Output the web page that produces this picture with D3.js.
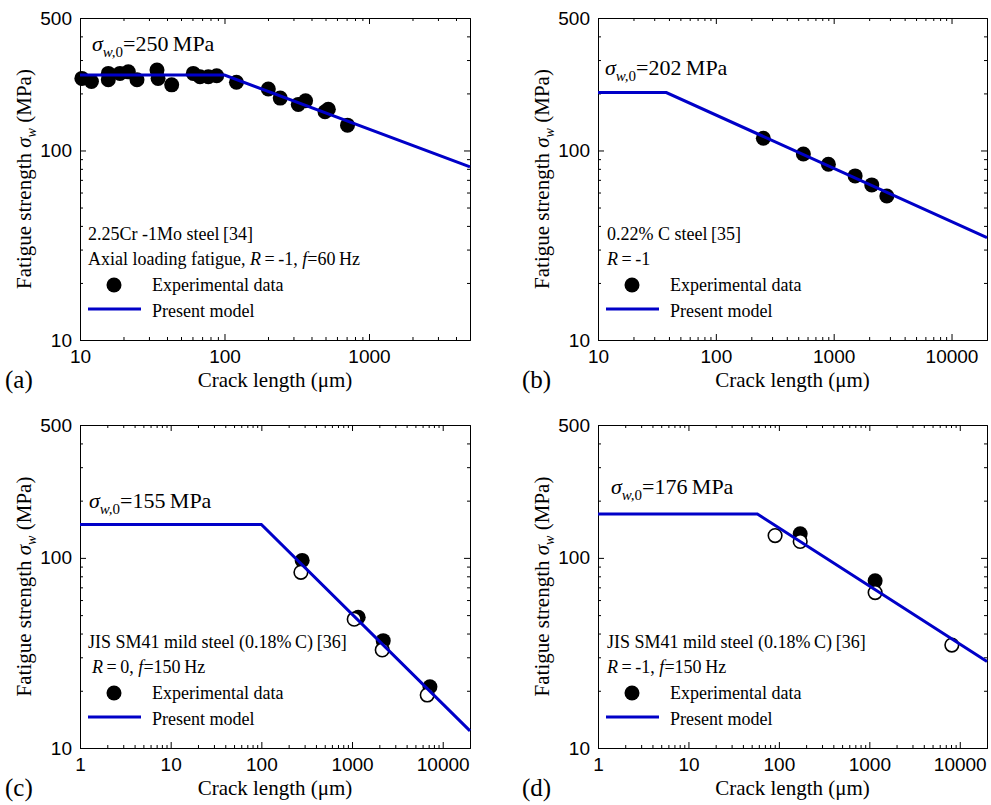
<!DOCTYPE html>
<html>
<head>
<meta charset="utf-8">
<script src="https://cdnjs.cloudflare.com/ajax/libs/d3/7.8.5/d3.min.js"></script>
<style>
  body { margin: 0; background: #fff; }
</style>
</head>
<body>
<script>
// Tick values
var yMajorTicks = [10, 100, 500];
var xTicksA = [10, 100, 1000];
var xTicksB = [10, 100, 1000, 10000];
var xTicksCD = [1, 10, 100, 1000, 10000];

// (a) 2.25Cr-1Mo steel
var aCrack = [10.3, 12, 15.7, 15.7, 18.9, 21.6, 24.8, 34.1, 34.7, 43.1, 60.8, 67.7, 77.3, 88.3, 121, 201, 243, 324, 364, 496, 523, 710];
var aStrength = [240, 231, 255, 236, 255, 260, 236, 266, 240, 222, 255, 245, 245, 248, 229, 211, 189, 175, 183, 160, 165, 136];
var aModelCrack = [10, 100, 5000];
var aModelStrength = [250, 250, 82];

// (b) 0.22% C steel
var bCrack = [253, 553, 902, 1520, 2105, 2825];
var bStrength = [116, 95.8, 84.6, 73.4, 65.8, 57.5];
var bModelCrack = [10, 38, 20000];
var bModelStrength = [202, 202, 34.7];

// (c) JIS SM41, R = 0
var cCrackFilled = [282, 1170, 2208, 7230];
var cStrengthFilled = [97, 48.7, 36.7, 21.0];
var cCrackOpen = [273, 1057, 2153, 6750];
var cStrengthOpen = [84, 47.6, 32.8, 19.0];
var cModelCrack = [1, 100, 20000];
var cModelStrength = [150, 150, 12.3];

// (d) JIS SM41, R = -1
var dCrackFilled = [172, 1159];
var dStrengthFilled = [134, 75.7];
var dCrackOpen = [90.8, 172, 1159, 8170];
var dStrengthOpen = [131, 122, 65.7, 34.8];
var dModelCrack = [1, 57.8, 20000];
var dModelStrength = [170, 170, 28.5];

var serif = "'Liberation Serif', 'Times New Roman', serif";
var sans = "'Liberation Sans', Arial, sans-serif";
var blue = "#0000c8";

var svg = d3.select("body")
  .append("svg")
  .attr("width", 991)
  .attr("height", 805);

//zip two arrays into point objects
function zip(xs, ys) {
  return xs.map(function(v, i) { return { x: v, y: ys[i] }; });
}

//2..9 times each power of ten inside the domain
function minorTicks(domain) {
  var out = [];
  var lo = Math.floor(Math.log10(domain[0]));
  var hi = Math.ceil(Math.log10(domain[1]));
  for (var e = lo; e <= hi; e++) {
    for (var k = 2; k <= 9; k++) {
      var v = k * Math.pow(10, e);
      if (v > domain[0] && v < domain[1]) out.push(v);
    }
  }
  return out;
}

function styleAxis(sel, size) {
  sel.attr("font-family", sans).attr("font-size", size);
  sel.selectAll("path, line").attr("stroke", "#000").attr("stroke-width", 1);
  sel.selectAll("text").attr("fill", "#000");
}

function drawPanel(p) {
  var g = svg.append("g")
    .attr("transform", "translate(" + p.left + "," + p.top + ")");

  var x = d3.scaleLog().domain(p.xDomain).range([0, p.width]);
  var y = d3.scaleLog().domain([10, 500]).range([p.height, 0]);

  var xMinor = minorTicks(p.xDomain);
  var yMinor = minorTicks([10, 500]);

  //bottom axis with labels, then minor ticks
  g.append("g")
    .attr("transform", "translate(0," + p.height + ")")
    .call(d3.axisBottom(x).tickValues(p.xTicks).tickFormat(d3.format("d"))
      .tickSize(-6).tickSizeOuter(0).tickPadding(10))
    .call(styleAxis, 19);
  g.append("g")
    .attr("transform", "translate(0," + p.height + ")")
    .call(d3.axisBottom(x).tickValues(xMinor).tickFormat("").tickSize(-3).tickSizeOuter(0))
    .call(styleAxis, 19);

  //top mirror
  g.append("g")
    .call(d3.axisTop(x).tickValues(p.xTicks).tickFormat("").tickSize(-6).tickSizeOuter(0))
    .call(styleAxis, 19);
  g.append("g")
    .call(d3.axisTop(x).tickValues(xMinor).tickFormat("").tickSize(-3).tickSizeOuter(0))
    .call(styleAxis, 19);

  //left axis
  g.append("g")
    .call(d3.axisLeft(y).tickValues(yMajorTicks).tickFormat(d3.format("d"))
      .tickSize(-6).tickSizeOuter(0).tickPadding(8))
    .call(styleAxis, 19);
  g.append("g")
    .call(d3.axisLeft(y).tickValues(yMinor).tickFormat("").tickSize(-3).tickSizeOuter(0))
    .call(styleAxis, 19);

  //right mirror
  g.append("g")
    .attr("transform", "translate(" + p.width + ",0)")
    .call(d3.axisRight(y).tickValues(yMajorTicks).tickFormat("").tickSize(-6).tickSizeOuter(0))
    .call(styleAxis, 19);
  g.append("g")
    .attr("transform", "translate(" + p.width + ",0)")
    .call(d3.axisRight(y).tickValues(yMinor).tickFormat("").tickSize(-3).tickSizeOuter(0))
    .call(styleAxis, 19);

  //experimental points: filled first, open on top
  g.selectAll(".filled")
    .data(p.filled)
    .enter().append("circle")
    .attr("class", "filled")
    .attr("cx", function(d) { return x(d.x); })
    .attr("cy", function(d) { return y(d.y); })
    .attr("r", 7.5)
    .attr("fill", "#000");

  g.selectAll(".open")
    .data(p.open || [])
    .enter().append("circle")
    .attr("class", "open")
    .attr("cx", function(d) { return x(d.x); })
    .attr("cy", function(d) { return y(d.y); })
    .attr("r", 6.8)
    .attr("fill", "#fff")
    .attr("stroke", "#000")
    .attr("stroke-width", 1.6);

  //model line
  var line = d3.line()
    .x(function(d) { return x(d.x); })
    .y(function(d) { return y(d.y); });

  g.append("path")
    .attr("d", line(p.model))
    .attr("fill", "none")
    .attr("stroke", blue)
    .attr("stroke-width", 3);

  //sigma_w,0 annotation
  var s = g.append("text")
    .attr("x", p.sigmaPos[0])
    .attr("y", p.sigmaPos[1])
    .attr("font-family", serif)
    .attr("font-size", 22)
    .attr("fill", "#000");
  s.append("tspan").attr("font-style", "italic").text("\u03c3");
  s.append("tspan").attr("font-style", "italic").attr("font-size", 15).attr("dy", 6).text("w,");
  s.append("tspan").attr("font-size", 15).text("0");
  s.append("tspan").attr("dy", -6).text("=" + p.sigma + "\u2009MPa");

  //material notes
  var b = p.height;
  p.notes.forEach(function(parts, i) {
    var t = g.append("text")
      .attr("x", p.noteX[i])
      .attr("y", b - 100 + i * 25)
      .attr("font-family", serif)
      .attr("font-size", 18)
      .attr("fill", "#000");
    parts.forEach(function(part) {
      t.append("tspan")
        .attr("font-style", part[1] ? "italic" : null)
        .text(part[0]);
    });
  });

  //legend
  g.append("circle")
    .attr("cx", 34).attr("cy", b - 55).attr("r", 7.5).attr("fill", "#000");
  g.append("text")
    .attr("x", 72).attr("y", b - 49)
    .attr("font-family", serif).attr("font-size", 18)
    .text("Experimental data");
  g.append("line")
    .attr("x1", 8).attr("x2", 61)
    .attr("y1", b - 31).attr("y2", b - 31)
    .attr("stroke", blue).attr("stroke-width", 3);
  g.append("text")
    .attr("x", 72).attr("y", b - 23)
    .attr("font-family", serif).attr("font-size", 18)
    .text("Present model");

  //axis titles
  g.append("text")
    .attr("x", p.width / 2)
    .attr("y", p.height + 47)
    .attr("text-anchor", "middle")
    .attr("font-family", serif)
    .attr("font-size", 21)
    .text("Crack length (\u03bcm)");

  var yl = g.append("text")
    .attr("transform", "translate(" + p.yTitleX + "," + (p.height / 2) + ") rotate(-90)")
    .attr("text-anchor", "middle")
    .attr("font-family", serif)
    .attr("font-size", 21);
  yl.append("tspan").text("Fatigue strength ");
  yl.append("tspan").attr("font-style", "italic").text("\u03c3");
  yl.append("tspan").attr("font-style", "italic").attr("font-size", 14).attr("dy", 5).text("w");
  yl.append("tspan").attr("dy", -5).text(" (MPa)");

  //panel letter
  g.append("text")
    .attr("x", p.letterX)
    .attr("y", p.height + 48)
    .attr("font-family", serif)
    .attr("font-size", 25)
    .text(p.letter);
}

var panels = [
  {
    left: 80, top: 18, width: 390, height: 322,
    xDomain: [10, 5000], xTicks: xTicksA,
    filled: zip(aCrack, aStrength),
    model: zip(aModelCrack, aModelStrength),
    sigma: "250", sigmaPos: [12, 33],
    notes: [
      [["2.25Cr -1Mo steel\u2009[34]", false]],
      [["Axial loading fatigue, ", false], ["R", true], ["\u2009=\u2009-1, ", false], ["f", true], ["=60\u2009Hz", false]]
    ],
    noteX: [8, 8],
    yTitleX: -49, letter: "(a)", letterX: -75
  },
  {
    left: 598, top: 18, width: 389, height: 322,
    xDomain: [10, 20000], xTicks: xTicksB,
    filled: zip(bCrack, bStrength),
    model: zip(bModelCrack, bModelStrength),
    sigma: "202", sigmaPos: [7, 57],
    notes: [
      [["0.22% C steel\u2009[35]", false]],
      [["R", true], ["\u2009=\u2009-1", false]]
    ],
    noteX: [9, 9],
    yTitleX: -49, letter: "(b)", letterX: -76
  },
  {
    left: 80, top: 425, width: 390, height: 323,
    xDomain: [1, 20000], xTicks: xTicksCD,
    filled: zip(cCrackFilled, cStrengthFilled),
    open: zip(cCrackOpen, cStrengthOpen),
    model: zip(cModelCrack, cModelStrength),
    sigma: "155", sigmaPos: [9, 83],
    notes: [
      [["JIS SM41 mild steel (0.18%\u2009C)\u2009[36]", false]],
      [["R", true], ["\u2009=\u20090, ", false], ["f", true], ["=150\u2009Hz", false]]
    ],
    noteX: [8, 12],
    yTitleX: -49, letter: "(c)", letterX: -75
  },
  {
    left: 598, top: 425, width: 389, height: 323,
    xDomain: [1, 20000], xTicks: xTicksCD,
    filled: zip(dCrackFilled, dStrengthFilled),
    open: zip(dCrackOpen, dStrengthOpen),
    model: zip(dModelCrack, dModelStrength),
    sigma: "176", sigmaPos: [13, 69],
    notes: [
      [["JIS SM41 mild steel (0.18%\u2009C)\u2009[36]", false]],
      [["R", true], ["\u2009=\u2009-1, ", false], ["f", true], ["=150\u2009Hz", false]]
    ],
    noteX: [9, 9],
    yTitleX: -49, letter: "(d)", letterX: -76
  }
];

panels.forEach(drawPanel);
</script>
</body>
</html>
